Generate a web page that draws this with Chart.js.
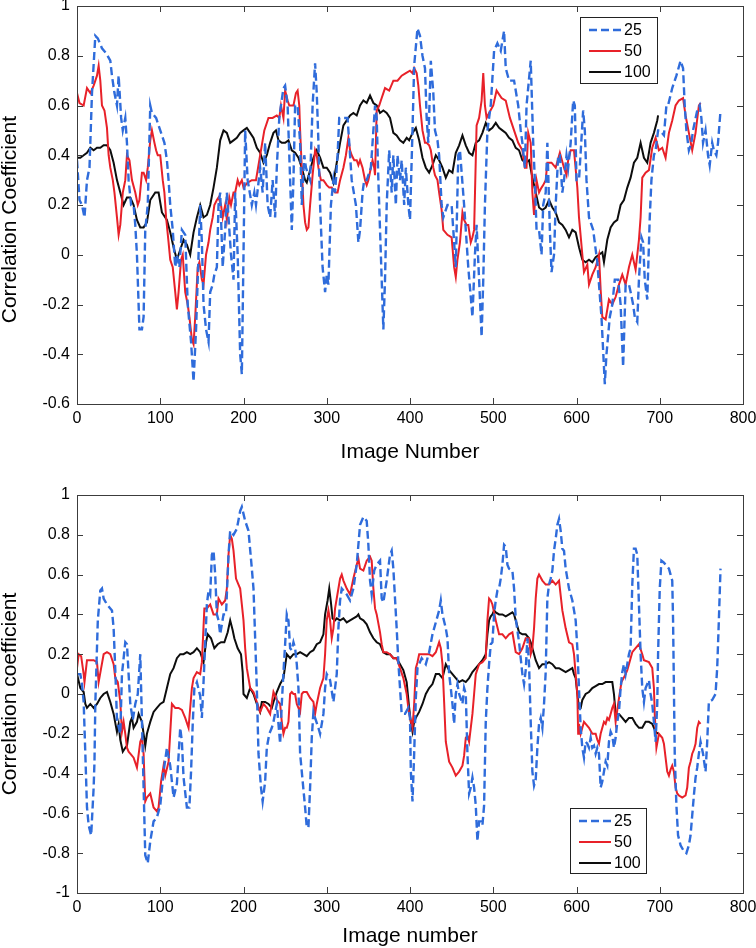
<!DOCTYPE html>
<html>
<head>
<meta charset="utf-8">
<script src="https://cdn.jsdelivr.net/npm/chart.js@4.4.1/dist/chart.umd.min.js"></script>
<style>
  html, body { margin: 0; padding: 0; background: #fff; }
  #top { position: absolute; left: 0; top: 0; }
  #bottom { position: absolute; left: 0; top: 470px; }
</style>
</head>
<body>
<canvas id="top" width="756" height="470"></canvas>
<canvas id="bottom" width="756" height="478"></canvas>
<script>
// [image number, correlation], one list per window size

// upper panel
const top25 = [[0,0.38],[3,0.22],[6,0.2],[9,0.15],[12,0.3],[15,0.35],[18,0.65],[22,0.88],[25,0.87],[30,0.83],[35,0.81],[40,0.78],[42,0.72],[45,0.65],[48,0.6],[50,0.72],[53,0.55],[55,0.5],[58,0.55],[60,0.45],[62,0.3],[65,0.2],[68,0.2],[70,0.12],[72,0.0],[75,-0.3],[78,-0.3],[80,-0.25],[82,0.1],[85,0.2],[88,0.6],[90,0.57],[95,0.55],[100,0.5],[105,0.45],[108,0.38],[110,0.3],[112,0.2],[115,0.1],[118,-0.05],[120,0.0],[123,-0.05],[126,0.1],[130,0.08],[133,-0.2],[137,-0.35],[140,-0.51],[143,-0.3],[146,0.0],[148,0.2],[150,0.05],[152,-0.2],[155,-0.3],[158,-0.35],[160,-0.15],[163,-0.12],[165,-0.08],[168,-0.05],[170,0.2],[172,0.25],[175,-0.05],[178,0.1],[180,0.25],[183,0.1],[185,0.0],[188,-0.1],[190,0.25],[193,0.0],[196,-0.4],[198,-0.48],[200,0.0],[202,0.5],[205,0.3],[210,0.2],[213,0.25],[215,0.2],[220,0.35],[223,0.25],[226,0.45],[229,0.2],[232,0.15],[235,0.3],[238,0.15],[240,0.35],[243,0.55],[245,0.6],[248,0.67],[250,0.68],[253,0.6],[255,0.4],[258,0.1],[260,0.3],[262,0.6],[265,0.6],[268,0.45],[270,0.2],[273,0.4],[275,0.35],[280,0.3],[283,0.6],[286,0.77],[288,0.65],[290,0.45],[292,0.2],[295,-0.05],[298,-0.15],[300,-0.08],[302,-0.12],[305,0.2],[308,0.3],[310,0.25],[313,0.4],[315,0.55],[320,0.55],[325,0.55],[328,0.4],[330,0.3],[335,0.2],[338,0.05],[340,0.1],[343,0.25],[345,0.3],[348,0.3],[350,0.32],[353,0.35],[355,0.45],[358,0.6],[360,0.55],[362,0.3],[365,0.0],[368,-0.3],[370,-0.1],[372,0.2],[375,0.42],[378,0.25],[380,0.4],[383,0.2],[385,0.4],[388,0.3],[390,0.38],[393,0.2],[395,0.35],[398,0.2],[400,0.14],[403,0.5],[405,0.76],[409,0.91],[412,0.88],[415,0.8],[418,0.75],[420,0.55],[422,0.45],[425,0.78],[428,0.65],[430,0.5],[433,0.46],[435,0.4],[438,0.2],[440,0.15],[445,0.2],[450,0.2],[453,0.05],[455,-0.05],[458,0.4],[460,0.42],[465,0.2],[470,-0.05],[475,-0.25],[478,0.0],[480,0.12],[483,-0.1],[486,-0.33],[488,-0.1],[490,0.2],[493,0.5],[497,0.6],[501,0.82],[505,0.85],[509,0.82],[513,0.9],[515,0.75],[519,0.7],[525,0.7],[530,0.6],[533,0.5],[535,0.45],[538,0.35],[540,0.6],[545,0.78],[548,0.45],[550,0.3],[552,0.1],[555,0.1],[558,0.0],[560,0.2],[563,0.25],[565,0.45],[568,0.1],[570,-0.07],[573,0.0],[575,0.2],[578,0.4],[580,0.4],[583,0.25],[585,0.3],[588,0.4],[590,0.35],[593,0.45],[596,0.62],[598,0.6],[600,0.3],[603,0.3],[608,0.58],[610,0.5],[612,0.3],[615,0.15],[620,0.1],[625,-0.03],[630,-0.25],[634,-0.52],[636,-0.4],[640,-0.25],[643,-0.2],[646,-0.1],[650,-0.1],[653,-0.2],[656,-0.45],[659,-0.12],[663,-0.12],[665,-0.15],[668,-0.2],[670,-0.25],[673,-0.27],[675,-0.1],[678,0.07],[680,0.05],[682,-0.1],[685,-0.18],[688,0.15],[690,0.3],[693,0.4],[695,0.42],[698,0.5],[700,0.5],[705,0.48],[708,0.6],[710,0.6],[715,0.67],[720,0.72],[725,0.78],[728,0.75],[730,0.6],[732,0.5],[735,0.42],[738,0.45],[740,0.5],[745,0.58],[748,0.6],[750,0.55],[752,0.45],[755,0.5],[758,0.4],[760,0.36],[763,0.45],[765,0.42],[768,0.4],[770,0.45],[773,0.58]];

const top50 = [[0,0.65],[3,0.61],[8,0.6],[12,0.67],[16,0.65],[20,0.68],[24,0.72],[26,0.76],[28,0.7],[30,0.6],[33,0.58],[36,0.51],[38,0.4],[40,0.35],[43,0.3],[45,0.25],[48,0.15],[50,0.08],[52,0.12],[55,0.25],[58,0.3],[60,0.4],[63,0.38],[66,0.3],[70,0.25],[73,0.2],[75,0.22],[78,0.33],[80,0.33],[83,0.3],[85,0.35],[88,0.46],[90,0.5],[93,0.45],[95,0.42],[97,0.4],[100,0.4],[103,0.3],[105,0.25],[107,0.15],[110,0.05],[112,-0.02],[115,-0.05],[118,-0.15],[120,-0.22],[122,-0.15],[125,-0.02],[127,0.0],[130,-0.15],[133,-0.2],[135,-0.25],[138,-0.34],[140,-0.36],[142,-0.25],[145,-0.05],[147,-0.03],[150,-0.1],[152,-0.12],[155,0.0],[158,0.05],[160,0.1],[163,0.15],[165,0.2],[168,0.22],[170,0.23],[173,0.2],[175,0.15],[178,0.2],[180,0.14],[183,0.23],[185,0.2],[188,0.25],[190,0.25],[193,0.3],[195,0.28],[198,0.3],[200,0.27],[205,0.29],[210,0.3],[215,0.3],[220,0.4],[225,0.5],[230,0.55],[235,0.55],[240,0.56],[243,0.55],[245,0.6],[248,0.55],[250,0.66],[253,0.62],[255,0.6],[258,0.6],[260,0.6],[263,0.65],[265,0.66],[267,0.6],[268,0.5],[270,0.35],[272,0.2],[274,0.13],[276,0.1],[278,0.11],[280,0.2],[283,0.32],[286,0.42],[288,0.4],[290,0.35],[293,0.3],[296,0.3],[300,0.28],[303,0.27],[306,0.27],[310,0.25],[313,0.25],[316,0.3],[320,0.35],[323,0.4],[326,0.47],[328,0.42],[330,0.4],[333,0.38],[336,0.38],[338,0.36],[340,0.38],[343,0.35],[346,0.3],[348,0.28],[350,0.3],[353,0.35],[355,0.38],[357,0.35],[358,0.32],[360,0.58],[363,0.6],[365,0.62],[370,0.67],[375,0.66],[380,0.7],[385,0.7],[390,0.72],[395,0.73],[400,0.74],[403,0.73],[405,0.75],[408,0.73],[410,0.68],[412,0.6],[415,0.5],[418,0.45],[420,0.45],[423,0.44],[425,0.42],[428,0.35],[430,0.32],[433,0.3],[435,0.25],[438,0.18],[440,0.1],[445,0.08],[450,0.07],[453,-0.05],[455,-0.09],[457,-0.02],[460,0.05],[463,0.17],[465,0.14],[468,0.12],[470,0.12],[473,0.05],[475,0.07],[477,0.1],[480,0.52],[483,0.55],[486,0.62],[488,0.73],[490,0.6],[492,0.55],[495,0.57],[500,0.6],[504,0.66],[510,0.63],[515,0.62],[520,0.55],[525,0.5],[530,0.45],[535,0.42],[538,0.35],[540,0.35],[542,0.49],[545,0.45],[547,0.25],[549,0.16],[552,0.3],[555,0.25],[558,0.27],[560,0.28],[563,0.3],[565,0.37],[570,0.37],[575,0.35],[580,0.41],[585,0.35],[588,0.32],[590,0.38],[593,0.42],[597,0.42],[601,0.27],[603,0.15],[607,0.0],[609,-0.07],[613,-0.04],[615,-0.12],[619,-0.08],[623,-0.05],[627,0.0],[629,-0.14],[631,-0.25],[635,-0.26],[639,-0.18],[643,-0.2],[647,-0.17],[651,-0.12],[655,-0.08],[659,-0.12],[663,-0.05],[667,0.0],[671,-0.06],[675,0.06],[677,0.15],[679,0.31],[683,0.33],[687,0.34],[691,0.43],[695,0.47],[699,0.42],[703,0.43],[707,0.39],[711,0.49],[715,0.54],[719,0.6],[723,0.62],[728,0.63],[731,0.56],[735,0.49],[739,0.42],[743,0.49],[747,0.6],[749,0.61]];

const top100 = [[0,0.39],[4,0.39],[8,0.4],[12,0.41],[16,0.43],[20,0.42],[24,0.43],[28,0.43],[32,0.44],[36,0.44],[40,0.42],[44,0.37],[48,0.3],[52,0.25],[56,0.2],[60,0.23],[64,0.23],[68,0.2],[72,0.14],[76,0.11],[80,0.11],[84,0.13],[88,0.22],[94,0.25],[98,0.25],[102,0.17],[108,0.14],[112,0.09],[116,0.03],[120,-0.02],[124,0.02],[128,0.06],[132,0.04],[136,0.0],[140,0.09],[144,0.15],[148,0.2],[152,0.15],[156,0.16],[160,0.2],[164,0.27],[168,0.35],[172,0.46],[176,0.5],[180,0.49],[184,0.45],[188,0.46],[192,0.47],[196,0.49],[200,0.5],[204,0.51],[208,0.49],[212,0.47],[216,0.43],[220,0.41],[224,0.37],[228,0.4],[232,0.45],[236,0.49],[239,0.5],[242,0.46],[246,0.45],[250,0.45],[254,0.46],[258,0.42],[262,0.41],[266,0.39],[270,0.35],[274,0.3],[276,0.29],[280,0.34],[284,0.39],[288,0.42],[292,0.39],[296,0.35],[300,0.35],[304,0.33],[308,0.29],[312,0.37],[316,0.45],[320,0.52],[324,0.54],[328,0.56],[332,0.57],[336,0.56],[340,0.6],[344,0.62],[348,0.61],[352,0.64],[356,0.61],[360,0.6],[364,0.57],[368,0.58],[372,0.57],[376,0.55],[380,0.49],[384,0.48],[388,0.46],[392,0.45],[396,0.47],[399,0.46],[403,0.49],[407,0.51],[411,0.46],[415,0.39],[419,0.35],[423,0.33],[427,0.36],[431,0.4],[435,0.38],[439,0.35],[443,0.31],[447,0.34],[451,0.33],[455,0.41],[459,0.44],[463,0.48],[467,0.44],[471,0.41],[475,0.4],[479,0.45],[483,0.46],[487,0.49],[491,0.53],[495,0.5],[499,0.51],[503,0.53],[507,0.51],[511,0.5],[515,0.49],[519,0.47],[523,0.46],[527,0.43],[531,0.42],[535,0.38],[539,0.37],[543,0.38],[547,0.31],[551,0.25],[555,0.19],[559,0.18],[563,0.19],[567,0.22],[571,0.19],[575,0.17],[579,0.13],[583,0.12],[587,0.1],[591,0.07],[595,0.1],[599,0.09],[603,0.03],[607,-0.02],[611,-0.03],[615,-0.02],[619,-0.03],[623,-0.01],[627,0.0],[631,0.01],[633,-0.03],[637,0.06],[641,0.11],[645,0.13],[649,0.14],[653,0.2],[657,0.22],[661,0.27],[665,0.31],[669,0.37],[673,0.39],[677,0.45],[681,0.39],[685,0.37],[689,0.45],[693,0.49],[697,0.54],[698,0.56]];

// lower panel
const bottom25 = [[0,0.1],[4,0.1],[6,0.05],[8,-0.04],[10,-0.3],[12,-0.57],[14,-0.66],[17,-0.71],[20,-0.47],[21,-0.34],[22,-0.05],[25,0.37],[28,0.52],[30,0.53],[32,0.48],[36,0.45],[40,0.43],[42,0.42],[44,0.33],[46,0.12],[48,-0.13],[52,-0.2],[54,0.1],[58,0.26],[60,0.25],[62,0.1],[64,-0.05],[67,-0.13],[70,-0.05],[73,0.0],[76,0.2],[80,-0.47],[82,-0.81],[85,-0.85],[88,-0.74],[92,-0.64],[96,-0.62],[100,-0.56],[104,-0.39],[108,-0.27],[112,-0.36],[116,-0.52],[120,-0.45],[124,-0.17],[126,-0.24],[128,-0.42],[132,-0.57],[135,-0.57],[137,-0.39],[139,-0.15],[141,0.03],[144,0.06],[148,-0.01],[150,-0.12],[152,0.06],[156,0.45],[158,0.52],[160,0.5],[162,0.7],[164,0.72],[166,0.6],[168,0.4],[170,0.37],[172,0.3],[176,0.4],[179,0.4],[182,0.7],[184,0.82],[188,0.8],[192,0.83],[196,0.92],[198,0.94],[202,0.87],[206,0.82],[210,0.63],[212,0.53],[214,0.28],[216,0.03],[218,-0.3],[221,-0.47],[223,-0.54],[226,-0.44],[228,-0.27],[231,-0.2],[234,-0.17],[236,-0.14],[240,-0.05],[244,-0.25],[246,-0.05],[248,0.11],[250,0.25],[252,0.4],[254,0.37],[256,0.23],[258,0.22],[260,0.26],[262,0.23],[264,0.15],[266,0.03],[268,-0.3],[270,-0.39],[274,-0.57],[276,-0.67],[278,-0.67],[280,-0.47],[282,-0.22],[284,-0.09],[286,-0.12],[290,-0.17],[292,-0.2],[296,-0.1],[298,0.03],[300,0.1],[304,0.07],[308,-0.04],[312,0.1],[314,0.33],[316,0.47],[318,0.53],[320,0.52],[324,0.5],[328,0.47],[332,0.53],[336,0.65],[338,0.75],[340,0.85],[344,0.89],[348,0.87],[350,0.75],[352,0.57],[354,0.5],[357,0.62],[360,0.65],[364,0.67],[366,0.48],[368,0.46],[372,0.57],[376,0.7],[378,0.72],[380,0.63],[382,0.48],[384,0.33],[386,0.16],[388,0.03],[390,-0.1],[394,-0.1],[398,-0.07],[400,-0.12],[401,-0.39],[403,-0.54],[405,-0.3],[407,-0.02],[409,0.13],[414,0.18],[419,0.15],[423,0.21],[427,0.3],[431,0.36],[435,0.42],[437,0.47],[439,0.4],[443,0.33],[445,0.28],[447,0.1],[449,0.03],[451,-0.05],[453,-0.15],[455,0.0],[457,0.05],[459,0.0],[463,-0.05],[465,0.03],[467,0.0],[469,-0.3],[471,-0.5],[473,-0.47],[475,-0.42],[477,-0.47],[479,-0.56],[481,-0.74],[483,-0.64],[485,-0.64],[487,-0.66],[489,-0.56],[491,-0.14],[493,0.03],[495,0.15],[497,0.25],[499,0.26],[501,0.4],[503,0.47],[505,0.52],[507,0.53],[509,0.58],[511,0.65],[513,0.75],[515,0.74],[517,0.65],[519,0.63],[523,0.62],[525,0.53],[527,0.38],[531,0.26],[535,0.1],[537,0.05],[539,0.12],[541,0.28],[543,0.15],[545,-0.14],[547,-0.39],[549,-0.46],[551,-0.43],[553,-0.27],[555,-0.15],[557,-0.12],[559,-0.17],[561,-0.05],[563,0.11],[565,0.48],[567,0.55],[569,0.58],[571,0.62],[573,0.72],[575,0.78],[577,0.85],[579,0.88],[581,0.82],[583,0.73],[585,0.72],[587,0.63],[591,0.53],[595,0.47],[597,0.42],[599,0.37],[601,0.23],[603,0.03],[605,-0.17],[607,-0.27],[609,-0.32],[611,-0.24],[613,-0.25],[615,-0.27],[617,-0.22],[619,-0.27],[621,-0.26],[623,-0.3],[625,-0.27],[627,-0.3],[629,-0.47],[631,-0.44],[633,-0.39],[635,-0.34],[637,-0.36],[639,-0.24],[641,-0.19],[643,-0.21],[645,-0.27],[647,-0.22],[649,-0.14],[651,-0.09],[653,0.03],[655,0.11],[657,0.15],[659,0.1],[661,0.15],[663,0.2],[665,0.23],[667,0.55],[669,0.73],[671,0.73],[673,0.7],[675,0.45],[677,0.2],[679,0.03],[681,-0.04],[683,0.03],[685,0.05],[687,0.07],[689,0.0],[691,-0.05],[693,-0.14],[695,-0.24],[697,-0.05],[698,0.2],[700,0.53],[702,0.67],[705,0.66],[707,0.65],[711,0.63],[713,0.6],[715,0.57],[716,0.37],[717,0.03],[718,-0.3],[720,-0.56],[722,-0.71],[725,-0.76],[729,-0.79],[732,-0.8],[735,-0.76],[737,-0.71],[739,-0.61],[741,-0.51],[743,-0.42],[745,-0.37],[747,-0.3],[749,-0.24],[752,-0.3],[755,-0.39],[757,-0.24],[759,-0.04],[763,-0.03],[767,0.0],[769,0.13],[771,0.37],[773,0.63]];

const bottom50 = [[0,0.13],[2,0.2],[5,0.19],[8,0.1],[9,0.06],[12,0.17],[16,0.17],[20,0.17],[24,0.16],[26,0.06],[29,0.13],[32,0.2],[36,0.21],[40,0.2],[44,0.15],[46,0.08],[49,0.06],[52,-0.04],[54,-0.19],[56,-0.14],[58,-0.2],[60,-0.27],[62,-0.29],[64,-0.3],[68,-0.32],[72,-0.37],[76,-0.24],[78,-0.22],[80,-0.3],[82,-0.54],[84,-0.52],[88,-0.5],[92,-0.57],[96,-0.59],[98,-0.57],[101,-0.44],[104,-0.36],[106,-0.41],[110,-0.34],[114,-0.05],[118,-0.07],[122,-0.07],[126,-0.08],[130,-0.12],[134,-0.17],[138,0.03],[140,0.08],[144,0.11],[148,0.1],[150,0.16],[153,0.43],[156,0.43],[160,0.45],[164,0.4],[168,0.4],[170,0.48],[174,0.45],[178,0.47],[180,0.53],[182,0.7],[184,0.8],[186,0.78],[188,0.72],[191,0.58],[194,0.55],[196,0.53],[198,0.45],[200,0.37],[202,0.23],[204,0.13],[208,0.03],[212,0.01],[216,-0.04],[220,-0.09],[224,-0.05],[228,-0.07],[232,-0.1],[236,0.01],[240,-0.03],[244,-0.05],[246,-0.14],[248,-0.2],[250,-0.17],[252,-0.17],[254,-0.14],[256,0.0],[258,0.01],[260,0.0],[262,0.0],[264,-0.05],[268,-0.09],[270,0.0],[272,0.01],[276,0.01],[280,-0.02],[284,-0.04],[286,-0.1],[288,-0.05],[292,0.03],[296,0.08],[298,0.2],[300,0.37],[302,0.42],[304,0.37],[306,0.28],[308,0.33],[310,0.43],[312,0.48],[316,0.58],[318,0.6],[320,0.57],[324,0.53],[328,0.5],[332,0.58],[336,0.65],[338,0.68],[340,0.63],[344,0.62],[348,0.67],[352,0.69],[354,0.67],[356,0.53],[358,0.43],[360,0.4],[364,0.31],[366,0.25],[368,0.21],[372,0.21],[376,0.2],[380,0.18],[384,0.18],[388,0.13],[392,0.08],[396,0.0],[398,-0.07],[400,-0.12],[403,-0.17],[405,-0.05],[407,0.13],[409,0.16],[411,0.2],[415,0.2],[419,0.2],[423,0.2],[427,0.19],[431,0.21],[435,0.26],[437,0.23],[439,0.15],[441,-0.04],[443,-0.24],[447,-0.34],[451,-0.37],[455,-0.41],[459,-0.39],[463,-0.36],[465,-0.31],[467,-0.22],[469,-0.21],[471,-0.24],[473,-0.17],[475,-0.1],[477,0.0],[479,0.1],[483,0.15],[487,0.16],[491,0.18],[493,0.37],[495,0.48],[497,0.47],[499,0.45],[503,0.37],[507,0.3],[511,0.3],[515,0.28],[519,0.3],[523,0.31],[525,0.26],[527,0.21],[531,0.2],[535,0.23],[539,0.28],[543,0.28],[545,0.2],[547,0.23],[549,0.33],[551,0.48],[553,0.58],[555,0.6],[559,0.57],[563,0.55],[567,0.55],[571,0.57],[575,0.55],[579,0.57],[583,0.42],[587,0.33],[591,0.26],[595,0.25],[597,0.2],[599,0.1],[601,0.0],[602,-0.2],[603,-0.15],[605,-0.2],[607,-0.17],[609,-0.14],[611,-0.15],[615,-0.17],[619,-0.2],[623,-0.2],[625,-0.23],[627,-0.25],[629,-0.2],[631,-0.17],[633,-0.14],[635,-0.15],[637,-0.12],[639,-0.13],[641,-0.1],[643,-0.07],[645,-0.05],[647,-0.14],[650,-0.05],[654,0.06],[659,0.1],[661,0.12],[663,0.15],[667,0.21],[671,0.23],[675,0.25],[679,0.2],[681,0.17],[687,0.16],[691,0.13],[693,0.03],[694,-0.1],[696,-0.27],[699,-0.2],[703,-0.22],[705,-0.25],[707,-0.32],[709,-0.39],[711,-0.41],[713,-0.38],[715,-0.36],[717,-0.39],[719,-0.47],[721,-0.5],[723,-0.51],[727,-0.52],[731,-0.51],[733,-0.47],[735,-0.37],[737,-0.34],[739,-0.3],[741,-0.28],[743,-0.25],[745,-0.17],[747,-0.14],[749,-0.15]];

const bottom100 = [[0,0.1],[4,0.03],[8,0.01],[10,-0.05],[12,-0.07],[16,-0.05],[20,-0.07],[24,-0.05],[28,-0.02],[32,0.0],[36,0.01],[40,-0.04],[44,-0.1],[48,-0.19],[50,-0.15],[52,-0.23],[55,-0.29],[58,-0.27],[60,-0.26],[64,-0.14],[66,-0.12],[68,-0.17],[72,-0.14],[74,-0.1],[76,-0.12],[78,-0.14],[80,-0.2],[82,-0.26],[84,-0.2],[86,-0.17],[88,-0.14],[92,-0.09],[96,-0.07],[100,-0.05],[104,-0.04],[108,0.03],[112,0.1],[116,0.13],[120,0.18],[124,0.2],[128,0.2],[132,0.21],[136,0.2],[140,0.21],[144,0.23],[148,0.21],[152,0.16],[155,0.26],[157,0.3],[161,0.28],[165,0.23],[169,0.25],[173,0.26],[177,0.26],[181,0.31],[184,0.37],[187,0.32],[189,0.28],[193,0.23],[197,0.2],[199,0.11],[200,0.0],[204,-0.02],[208,0.03],[212,0.0],[216,-0.05],[220,-0.09],[222,-0.04],[226,-0.04],[230,-0.05],[234,-0.07],[236,-0.04],[240,0.01],[244,0.05],[248,0.08],[252,0.2],[256,0.18],[260,0.2],[264,0.2],[268,0.21],[272,0.2],[276,0.19],[280,0.21],[284,0.22],[288,0.25],[292,0.26],[296,0.3],[298,0.4],[301,0.47],[303,0.53],[305,0.46],[307,0.38],[310,0.37],[312,0.38],[316,0.37],[320,0.38],[324,0.36],[328,0.37],[332,0.38],[336,0.39],[338,0.4],[340,0.38],[344,0.37],[348,0.35],[352,0.31],[356,0.28],[360,0.26],[364,0.25],[368,0.21],[372,0.2],[376,0.2],[380,0.18],[384,0.18],[388,0.15],[392,0.12],[396,0.06],[399,-0.07],[401,-0.14],[403,-0.19],[405,-0.14],[407,-0.12],[411,-0.09],[415,-0.05],[419,0.0],[423,0.03],[427,0.05],[431,0.1],[435,0.1],[439,0.08],[443,0.15],[447,0.12],[451,0.1],[455,0.08],[459,0.06],[463,0.07],[467,0.06],[471,0.08],[475,0.11],[479,0.13],[483,0.15],[487,0.17],[491,0.2],[493,0.3],[495,0.37],[497,0.39],[499,0.4],[501,0.42],[503,0.41],[507,0.4],[511,0.4],[515,0.39],[519,0.4],[523,0.41],[525,0.4],[527,0.37],[531,0.31],[535,0.3],[539,0.3],[543,0.28],[545,0.26],[547,0.23],[549,0.2],[551,0.17],[555,0.13],[559,0.15],[563,0.15],[567,0.16],[571,0.15],[575,0.13],[579,0.13],[583,0.12],[587,0.11],[591,0.12],[595,0.13],[597,0.1],[599,0.08],[601,0.0],[603,-0.07],[605,-0.07],[607,-0.03],[611,0.0],[615,0.01],[619,0.03],[623,0.04],[627,0.05],[631,0.05],[635,0.06],[639,0.06],[643,0.06],[645,0.0],[647,-0.1],[651,-0.1],[655,-0.12],[659,-0.14],[663,-0.12],[667,-0.12],[671,-0.15],[675,-0.17],[679,-0.17],[683,-0.14],[687,-0.14],[691,-0.15],[695,-0.19],[698,-0.2]];

// axes
const xTicks = [0, 100, 200, 300, 400, 500, 600, 700, 800];
const yTicksTop = [-0.6, -0.4, -0.2, 0, 0.2, 0.4, 0.6, 0.8, 1];
const yTicksBottom = [-1, -0.8, -0.6, -0.4, -0.2, 0, 0.2, 0.4, 0.6, 0.8, 1];
const windowSizes = ["25", "50", "100"];

const FONT = "'Liberation Sans', Arial, Helvetica, sans-serif";
const BLUE = "#2f6cdb";
const RED = "#e82129";
const BLACK = "#0d0d0d";

function toPoints(pairs) {
  return pairs.map(p => ({ x: p[0], y: p[1] }));
}

// box + inward tick marks on all four sides, MATLAB style
const frameTicks = {
  id: "frameTicks",
  afterDraw(chart) {
    const { ctx, chartArea: a } = chart;
    const xs = chart.scales.x;
    const ys = chart.scales.y;
    ctx.save();
    ctx.strokeStyle = "#3c3c3c";
    ctx.lineWidth = 1;
    ctx.setLineDash([]);
    ctx.beginPath();
    xs.ticks.forEach(t => {
      const p = Math.round(xs.getPixelForValue(t.value)) + 0.5;
      ctx.moveTo(p, a.bottom);
      ctx.lineTo(p, a.bottom - 6);
      ctx.moveTo(p, a.top);
      ctx.lineTo(p, a.top + 6);
    });
    ys.ticks.forEach(t => {
      const p = Math.round(ys.getPixelForValue(t.value)) + 0.5;
      ctx.moveTo(a.left, p);
      ctx.lineTo(a.left + 6, p);
      ctx.moveTo(a.right, p);
      ctx.lineTo(a.right - 6, p);
    });
    ctx.stroke();
    ctx.strokeRect(Math.round(a.left) + 0.5, Math.round(a.top) + 0.5,
      Math.round(a.width), Math.round(a.height));
    ctx.restore();
  }
};

// legend with a box around it, placed inside the plot
const boxLegend = {
  id: "boxLegend",
  afterDraw(chart, args, opts) {
    const ctx = chart.ctx;
    ctx.save();
    ctx.fillStyle = "#fff";
    ctx.fillRect(opts.x, opts.y, opts.w, opts.h);
    ctx.strokeStyle = "#222";
    ctx.lineWidth = 1;
    ctx.strokeRect(opts.x + 0.5, opts.y + 0.5, opts.w, opts.h);
    ctx.font = "16px " + FONT;
    ctx.textBaseline = "middle";
    ctx.textAlign = "left";
    chart.data.datasets.forEach((ds, i) => {
      const yy = opts.y + 13 + i * 21;
      ctx.beginPath();
      ctx.strokeStyle = ds.borderColor;
      ctx.lineWidth = ds.borderWidth;
      ctx.setLineDash(ds.borderDash || []);
      ctx.moveTo(opts.x + 9, yy);
      ctx.lineTo(opts.x + 41, yy);
      ctx.stroke();
      ctx.fillStyle = "#000";
      ctx.fillText(ds.label, opts.x + 44, yy + 1);
    });
    ctx.restore();
  }
};

function makeChart(id, s25, s50, s100, yTicks, cfg) {
  return new Chart(document.getElementById(id), {
    type: "line",
    data: {
      datasets: [
        { label: windowSizes[0], data: toPoints(s25), borderColor: BLUE, borderWidth: 2.4, borderDash: [8, 4] },
        { label: windowSizes[1], data: toPoints(s50), borderColor: RED, borderWidth: 2 },
        { label: windowSizes[2], data: toPoints(s100), borderColor: BLACK, borderWidth: 2 }
      ]
    },
    options: {
      responsive: false,
      animation: false,
      parsing: false,
      normalized: true,
      elements: { point: { radius: 0 }, line: { tension: 0 } },
      layout: { padding: { top: cfg.top, right: 13, left: 0, bottom: 0 } },
      scales: {
        x: {
          type: "linear",
          min: 0,
          max: 800,
          grid: { display: false, drawTicks: false },
          border: { display: false },
          afterBuildTicks: s => { s.ticks = xTicks.map(v => ({ value: v })); },
          afterFit: s => { s.height = cfg.xHeight; s.paddingLeft = 0; s.paddingRight = 0; },
          ticks: { padding: 5, color: "#000", font: { family: FONT, size: 16 }, maxRotation: 0 },
          title: {
            display: true,
            text: cfg.xTitle,
            color: "#000",
            font: { family: FONT, size: 21, lineHeight: 1 },
            padding: { top: 0, bottom: cfg.xTitlePad }
          }
        },
        y: {
          type: "linear",
          min: yTicks[0],
          max: yTicks[yTicks.length - 1],
          grid: { display: false, drawTicks: false },
          border: { display: false },
          afterBuildTicks: s => { s.ticks = yTicks.map(v => ({ value: v })); },
          afterFit: s => { s.width = 77; s.paddingTop = 0; s.paddingBottom = 0; },
          ticks: {
            padding: 7,
            color: "#000",
            font: { family: FONT, size: 16 },
            callback: v => String(Math.round(v * 10) / 10)
          },
          title: {
            display: true,
            text: cfg.yTitle,
            color: "#000",
            font: { family: FONT, size: 21, lineHeight: 1 },
            padding: { top: 0, bottom: 0 }
          }
        }
      },
      plugins: {
        legend: { display: false },
        tooltip: { enabled: false },
        boxLegend: cfg.legend
      }
    },
    plugins: [frameTicks, boxLegend]
  });
}

makeChart("top", top25, top50, top100, yTicksTop, {
  top: 6,
  xHeight: 66,
  xTitlePad: 7,
  xTitle: "Image Number",
  yTitle: "Correlation Coefficient     ",
  legend: { x: 580, y: 17, w: 77, h: 66 }
});

makeChart("bottom", bottom25, bottom50, bottom100, yTicksBottom, {
  top: 25,
  xHeight: 55,
  xTitlePad: 1,
  xTitle: "Image number",
  yTitle: "Correlation coefficient",
  legend: { x: 570, y: 338, w: 76, h: 65 }
});
</script>
</body>
</html>
